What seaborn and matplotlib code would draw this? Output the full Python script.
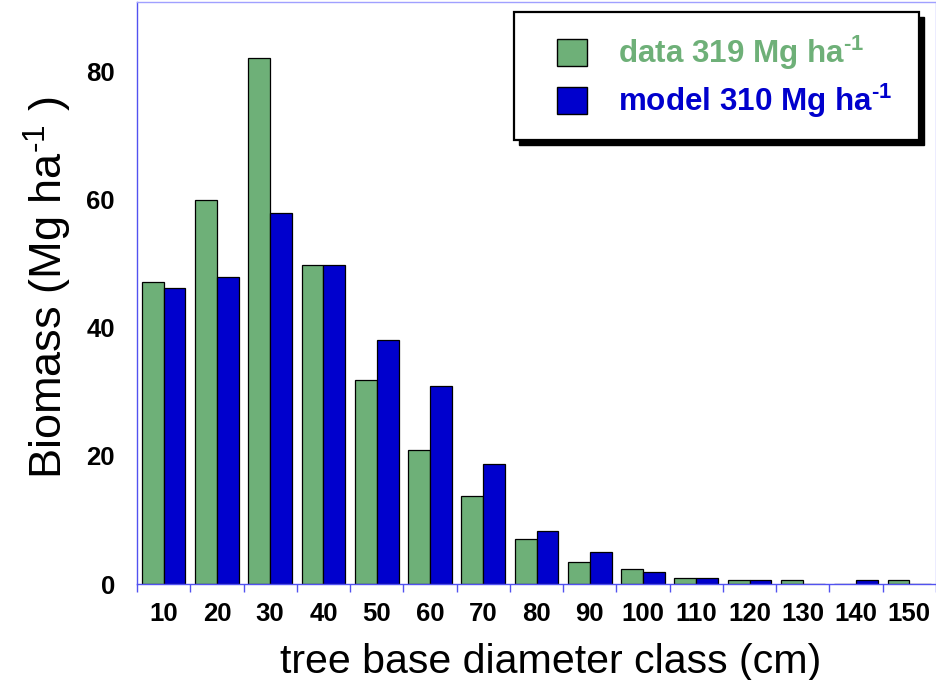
import numpy as np
import pandas as pd
import matplotlib
matplotlib.use("Agg")
import matplotlib.pyplot as plt
import seaborn as sns
from matplotlib.patches import Rectangle, Patch
from matplotlib.ticker import FixedLocator

# ---- data -------------------------------------------------------------
classes = ["10", "20", "30", "40", "50", "60", "70", "80", "90", "100",
           "110", "120", "130", "140", "150"]
data_vals = [47.2, 59.9, 82.1, 49.9, 31.8, 20.9, 13.7, 7.1, 3.5, 2.3,
             0.9, 0.6, 0.6, 0.0, 0.7]
model_vals = [46.2, 47.9, 58.0, 49.9, 38.1, 30.9, 18.7, 8.2, 5.0, 1.8,
              0.9, 0.6, 0.0, 0.6, 0.0]
series_names = ["data", "model"]
legend_labels = ["data 319 Mg ha$^{\\mathbf{\u20101}}$",
                 "model 310 Mg ha$^{\\mathbf{\u20101}}$"]
y_ticks = [0, 20, 40, 60, 80]

GREEN = "#6EB078"
BLUE = "#0000CD"
SPINE = "#5252F0"
SPINE_LIGHT = "#A0A0FF"

df = pd.DataFrame({
    "cls": classes * 2,
    "val": data_vals + model_vals,
    "series": [series_names[0]] * len(classes) + [series_names[1]] * len(classes),
})

# ---- style ------------------------------------------------------------
sns.set_theme(style="white")
plt.rcParams["font.family"] = ["Liberation Sans", "DejaVu Sans"]
plt.rcParams["mathtext.fontset"] = "custom"
plt.rcParams["mathtext.rm"] = "Liberation Sans"
plt.rcParams["mathtext.it"] = "Liberation Sans:italic"
plt.rcParams["mathtext.bf"] = "Liberation Sans:bold"
for k in ["text.color", "axes.labelcolor", "xtick.color", "ytick.color"]:
    plt.rcParams[k] = "black"

W, H = 937, 680
fig = plt.figure(figsize=(W / 100, H / 100), dpi=100)
ax = fig.add_axes([137 / W, 1 - 584 / H, (936 - 137) / W, (584 - 2) / H])

sns.barplot(data=df, x="cls", y="val", hue="series", order=classes,
            hue_order=series_names, palette=[GREEN, BLUE], width=0.82,
            edgecolor="black", linewidth=0.9, saturation=1, legend=False,
            ax=ax)

ax.set_xlim(-0.5, len(classes) - 0.5)
ax.set_ylim(0, 90.9)

# spines
for side in ["left", "bottom"]:
    ax.spines[side].set_visible(True)
    ax.spines[side].set_color(SPINE)
    ax.spines[side].set_linewidth(1.0)
for side in ["top", "right"]:
    ax.spines[side].set_visible(True)
    ax.spines[side].set_color(SPINE_LIGHT)
    ax.spines[side].set_linewidth(1.0)

# y ticks
ax.set_yticks(y_ticks)
ax.set_yticklabels([str(t) for t in y_ticks], fontsize=18.5, fontweight="bold")
ax.tick_params(axis="y", length=0, pad=16, labelcolor="black")

# x ticks: labels at centers, tick marks at class boundaries
ax.set_xticks(range(len(classes)))
ax.set_xticklabels(classes, fontsize=18.5, fontweight="bold")
ax.tick_params(axis="x", which="major", length=0, pad=13, labelcolor="black")
ax.xaxis.set_minor_locator(FixedLocator(np.arange(-0.5, len(classes), 1.0)))
ax.tick_params(axis="x", which="minor", length=6, width=1.0, color=SPINE,
               direction="out", bottom=True)

ax.set_xlabel("tree base diameter class (cm)", fontsize=29.6, color="black")
ax.xaxis.set_label_coords(0.5175, -0.101)
ax.set_ylabel("Biomass (Mg ha$^{\\text{-1}}$ )", fontsize=32.5, color="black")
ax.yaxis.set_label_coords(-0.079, 0.509)

# legend frame with hard black shadow
bx0, by0, bx1, by1 = 514, 12, 919, 140
off = 5
fig.patches.append(Rectangle((((bx0 + off) / W), 1 - (by1 + off) / H),
                             (bx1 - bx0) / W, (by1 - by0) / H,
                             transform=fig.transFigure, facecolor="black",
                             edgecolor="black", zorder=2))
fig.patches.append(Rectangle((bx0 / W, 1 - by1 / H),
                             (bx1 - bx0) / W, (by1 - by0) / H,
                             transform=fig.transFigure, facecolor="white",
                             edgecolor="black", linewidth=1.6, zorder=3))

handles = [Patch(facecolor=GREEN, edgecolor="black", linewidth=1.0),
           Patch(facecolor=BLUE, edgecolor="black", linewidth=1.0)]
leg = fig.legend(handles, legend_labels, loc="upper left",
                 bbox_to_anchor=(557 / W, 1 - 34 / H),
                 bbox_transform=fig.transFigure, frameon=False,
                 borderpad=0, borderaxespad=0,
                 handlelength=0.95, handleheight=0.95, handletextpad=1.0,
                 labelspacing=0.3,
                 prop={"size": 22.6, "weight": "bold"},
                 labelcolor=[GREEN, BLUE])
leg.set_zorder(5)

fig.savefig("out.png", dpi=100)
